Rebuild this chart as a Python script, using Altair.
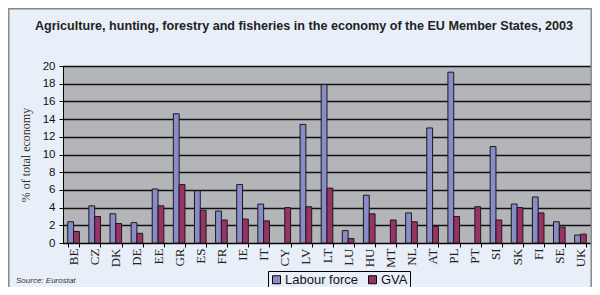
import altair as alt
import pandas as pd

title_text = "Agriculture, hunting, forestry and fisheries in the economy of the EU Member States, 2003"
countries = ["BE", "CZ", "DK", "DE", "EE", "GR", "ES", "FR", "IE", "IT", "CY", "LV", "LT",
             "LU", "HU", "MT", "NL", "AT", "PL", "PT", "SI", "SK", "FI", "SE", "UK"]
labour_force = [2.4, 4.2, 3.3, 2.3, 6.1, 14.6, 5.9, 3.6, 6.6, 4.4, None, 13.4, 17.9,
                1.4, 5.4, None, 3.4, 13.0, 19.3, None, 10.9, 4.4, 5.2, 2.4, 0.9]
gva = [1.3, 3.0, 2.2, 1.1, 4.2, 6.6, 3.7, 2.6, 2.7, 2.5, 4.0, 4.1, 6.2,
       0.5, 3.3, 2.6, 2.4, 1.9, 3.0, 4.1, 2.6, 4.0, 3.4, 1.8, 1.0]
series = ["Labour force", "GVA"]
colors = ["#8A8CC9", "#993366"]
y_ticks = [0, 2, 4, 6, 8, 10, 12, 14, 16, 18, 20]

rows = []
for i, c in enumerate(countries):
    rows.append({"country": c, "series": series[0], "value": labour_force[i]})
    rows.append({"country": c, "series": series[1], "value": gva[i]})
df = pd.DataFrame(rows).dropna()

BG = "#E9EFF8"

bars = alt.Chart(df).mark_bar(stroke="#1a1a1a", strokeWidth=1).encode(
    x=alt.X("country:N", sort=countries,
            scale=alt.Scale(paddingInner=0.45, paddingOuter=0.225),
            axis=alt.Axis(title=None, labelAngle=270, labelFont="Liberation Serif",
                          labelFontSize=13, labelColor="#222", labelAlign="right",
                          labelBaseline="middle", labelPadding=1, tickBand="extent",
                          tickSize=4, tickColor="#000", domainColor="#000",
                          grid=False)),
    xOffset=alt.XOffset("series:N", sort=series, scale=alt.Scale(domain=series)),
    y=alt.Y("value:Q", scale=alt.Scale(domain=[0, 20], nice=False),
            axis=alt.Axis(title="% of total economy", values=y_ticks,
                          titleFont="Liberation Serif", titleFontSize=12,
                          titleFontWeight="normal", titleColor="#333",
                          titlePadding=10, labelFont="Liberation Sans",
                          labelFontSize=11.5, labelColor="#111", labelPadding=4,
                          tickSize=4, tickColor="#000", domainColor="#000",
                          gridColor="#111", gridWidth=1.5, gridOpacity=1)),
    color=alt.Color("series:N", sort=series,
                    scale=alt.Scale(domain=series, range=colors),
                    legend=alt.Legend(title=None, orient="none", legendX=205,
                                      legendY=205, direction="horizontal",
                                      strokeColor="#000", fillColor=BG, padding=2,
                                      symbolType="square", symbolSize=64,
                                      symbolStrokeColor="#000", symbolStrokeWidth=1,
                                      labelFont="Liberation Sans", labelFontSize=13,
                                      labelColor="#111", columnPadding=8,
                                      labelOffset=2)),
)

source = alt.Chart(pd.DataFrame({"t": ["Source: Eurostat"]})).mark_text(
    align="left", baseline="middle", font="Liberation Sans", fontSize=8,
    fontStyle="italic", color="#333"
).encode(text="t:N", x=alt.value(-47), y=alt.value(215))

title = alt.Chart(pd.DataFrame({"t": [title_text]})).mark_text(
    align="center", baseline="alphabetic", font="Liberation Sans", fontSize=12.6,
    fontWeight="bold", color="#222"
).encode(text="t:N", x=alt.value(241), y=alt.value(-36))

frame = alt.Chart(pd.DataFrame({"t": [0]})).mark_rect(
    filled=False, stroke="#888", strokeWidth=1.5
).encode(x=alt.value(-54.2), x2=alt.value(528.2), y=alt.value(-57.2), y2=alt.value(240))

chart = alt.layer(frame, bars, source, title).properties(
    width=528, height=177,
    padding={"left": 55, "top": 58, "right": 1, "bottom": 44},
    autosize=alt.AutoSizeParams(type="none"),
    background=BG,
).configure_view(fill="#B4B5B8", stroke=None)

chart.save("out.html", embed_options={"renderer": "svg", "actions": False})
